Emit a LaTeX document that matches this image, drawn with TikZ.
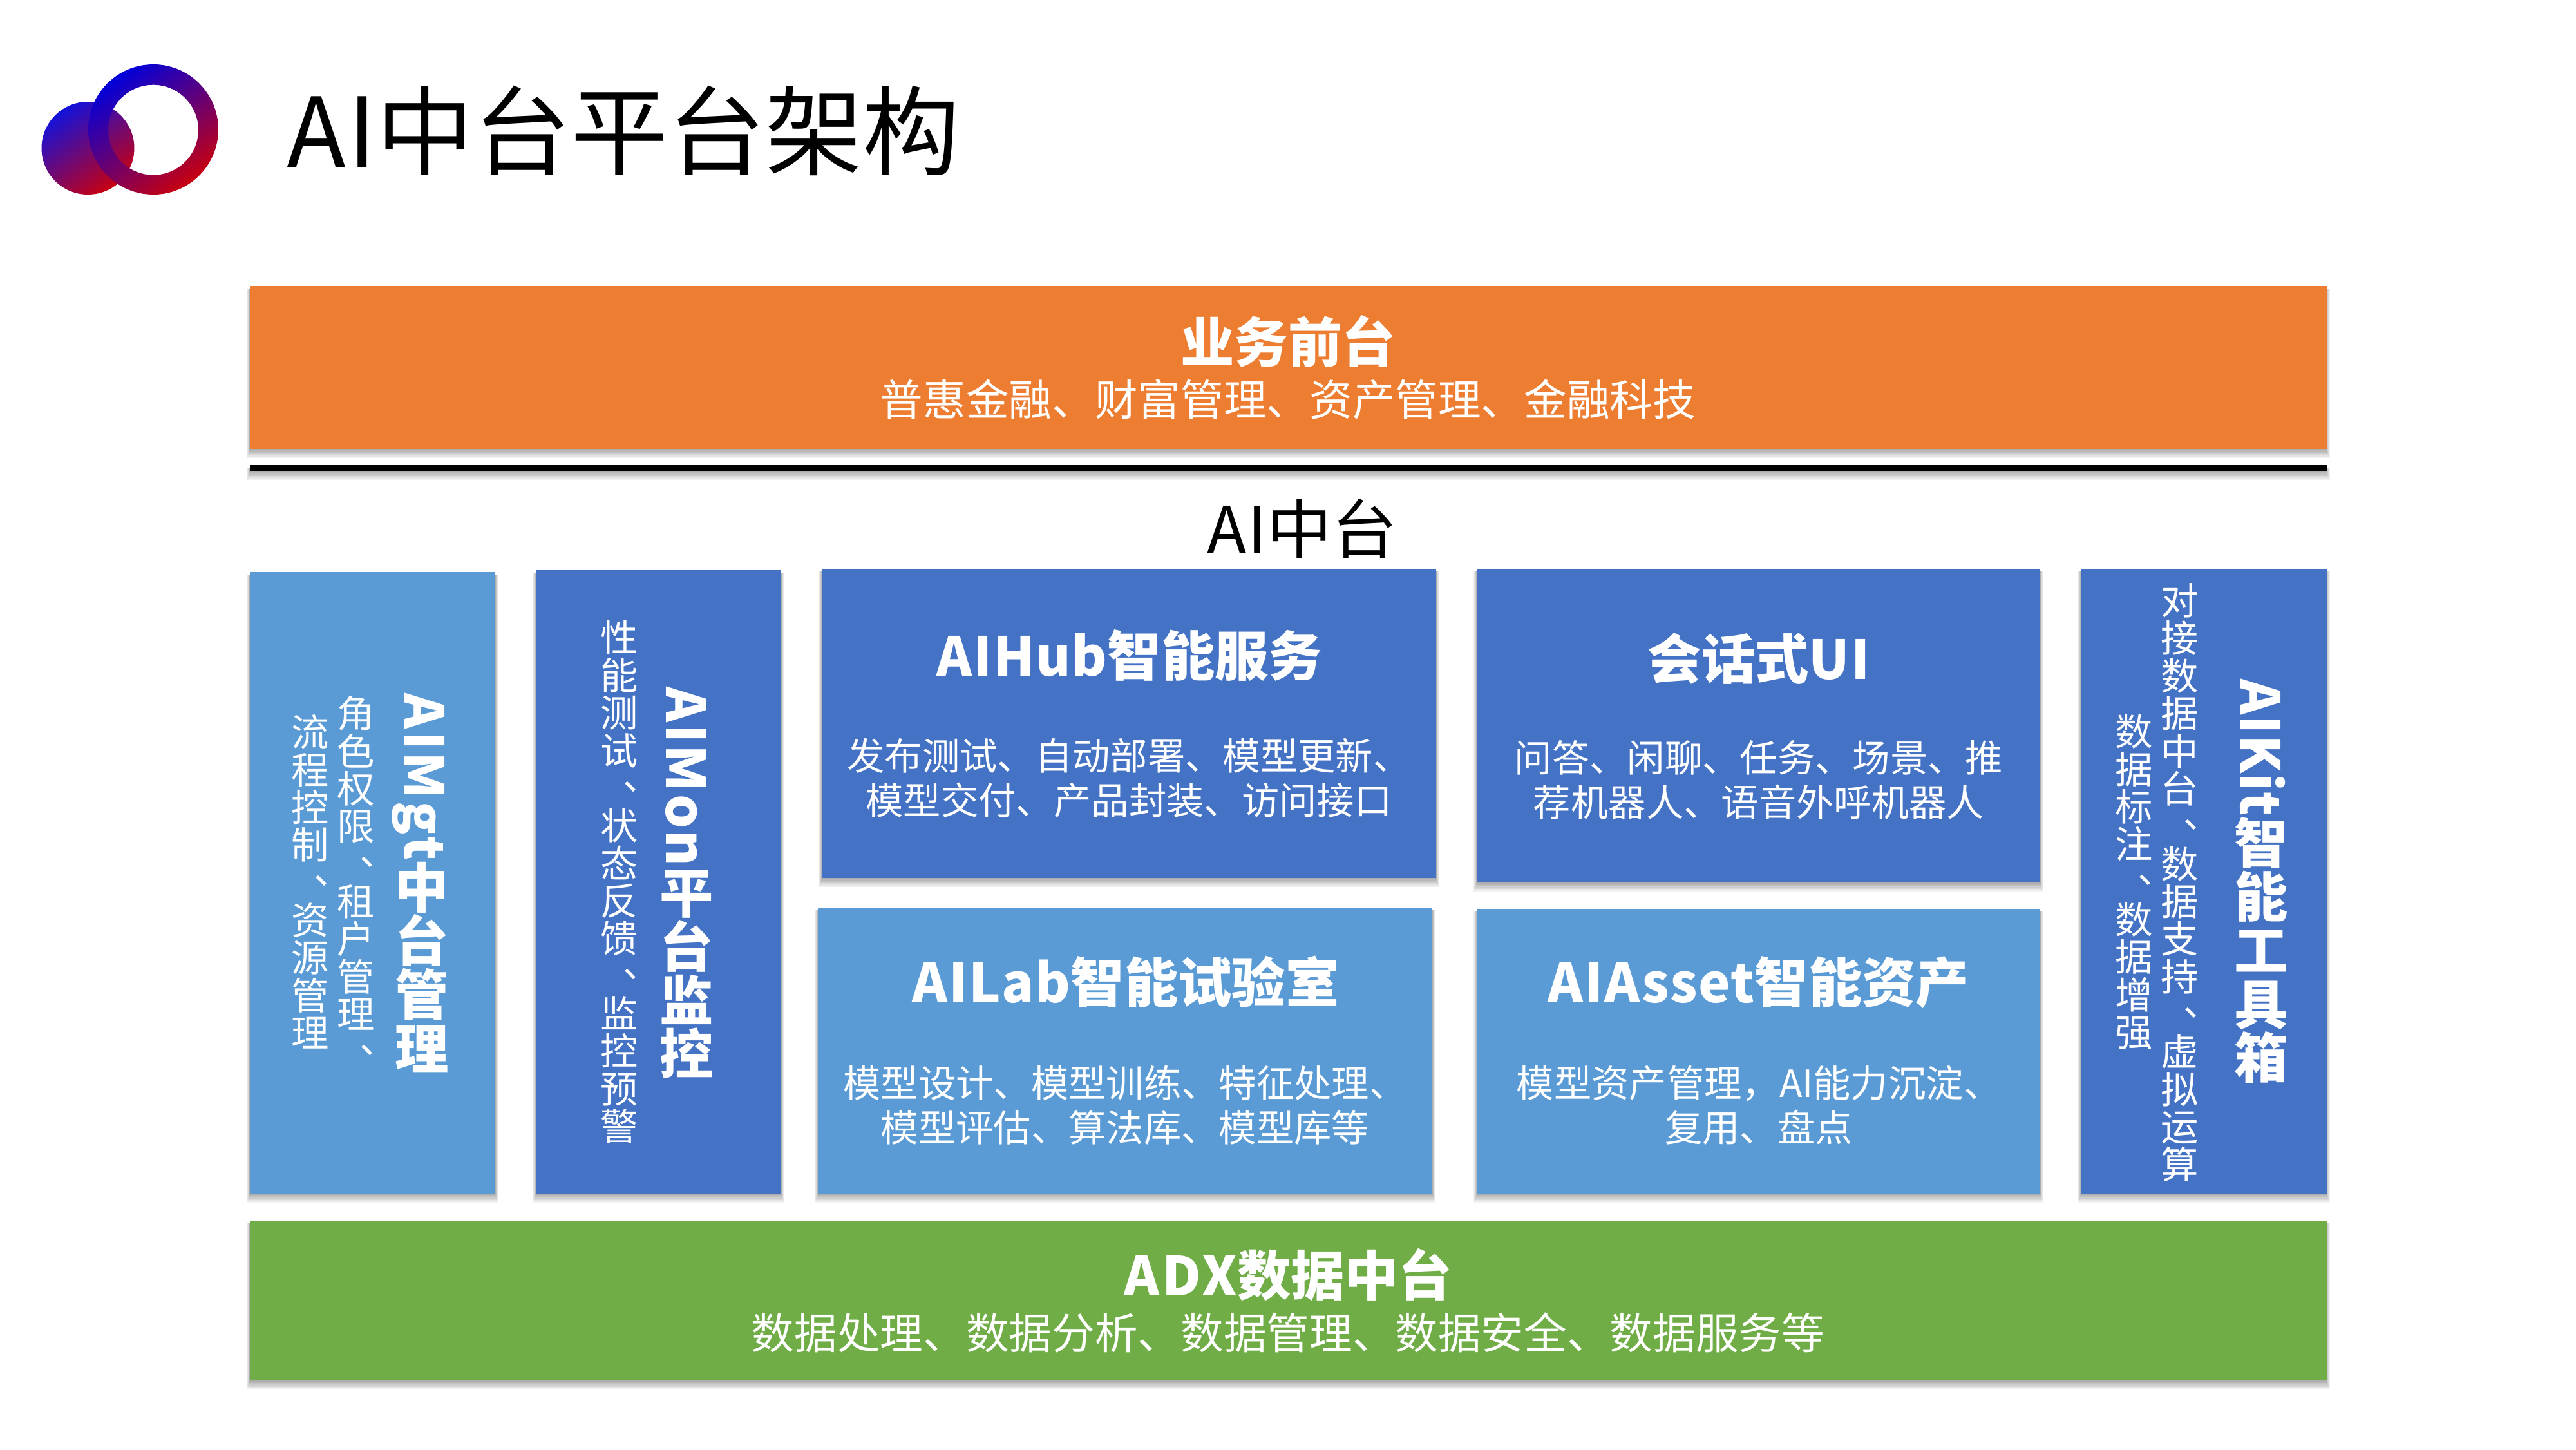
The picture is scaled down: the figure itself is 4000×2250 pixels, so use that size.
\documentclass[tikz,border=0pt]{standalone}
\usepackage{fontspec}
\usepackage{graphicx}
\setmainfont{Noto Sans CJK SC}
\definecolor{orangeb}{HTML}{ED7D31}
\definecolor{blueb}{HTML}{4472C4}
\definecolor{lblueb}{HTML}{5B9BD5}
\definecolor{greenb}{HTML}{70AD47}
\definecolor{lgblue}{HTML}{1212DC}
\definecolor{rgblue}{HTML}{0000DC}
\definecolor{lgred}{HTML}{C80010}
\makeatletter
\newcommand\st{\rule{0pt}{.88em}\rule[-.12em]{0pt}{.12em}}
\newcommand\pc{\hbox to 1em{\st\kern.6em\raise.33em\hbox{、}\hss}}
\newcommand\vcell[1]{\hbox to 1em{\hss\st#1\hss}}
\newcommand\vch[1]{\@tfor\vtc:=#1\do{\ifx\vtc\pcmark\pc\else\vcell{\vtc}\fi}}
\def\pcmark{、}
\newcommand\vlat[2][4]{\hbox to 1em{\hss\rotatebox{-90}{\st{\addfontfeature{LetterSpace=#1}#2}}\hss}}
\makeatother
\newcommand\lat[2][2]{{\addfontfeature{LetterSpace=#1}#2}}
\newcommand\vtx[1]{\vbox{\offinterlineskip #1}}
\newcommand\shrect[4]{%
  \foreach \d/\h in {-4/0,-2/.5,0/1,2/1.5,4/2,6/3,8/4,10/5}{%
    \fill[black,opacity=.05] (#1-\h,#2+4) rectangle (#3+\h,#4+\d+4);}}
\newcommand\bx[5]{\shrect{#1}{#2}{#3}{#4}\fill[#5] (#1,#2) rectangle (#3,#4);}
\tikzset{
  x=.5pt,y=-.5pt,
  txt/.style={inner sep=0pt,outer sep=0pt,anchor=center,execute at begin node=\st},
  vtxt/.style={inner sep=0pt,outer sep=0pt,anchor=center,text=white},
  head/.style={txt,text=white,font=\fontsize{41.67pt}{41.67pt}\selectfont\bfseries},
  bandsub/.style={txt,text=white,font=\fontsize{33.33pt}{33.33pt}\selectfont},
  desc/.style={txt,text=white,font=\fontsize{29.17pt}{29.17pt}\selectfont},
  vhead/.style={vtxt,font=\fontsize{41.67pt}{41.67pt}\selectfont\bfseries},
  vdesc/.style={vtxt,font=\fontsize{29.17pt}{29.17pt}\selectfont},
  logograd/.style={top color=#1,bottom color=lgred,shading angle=35},
}
\begin{document}
\begin{tikzpicture}
\useasboundingbox (0,0) rectangle (4000,2250);
\fill[white] (0,0) rectangle (4000,2250);
% logo
\shade[logograd=lgblue] (136.5,230) circle [radius=72];
\shade[logograd=rgblue,even odd rule] (238,201) circle [radius=101] (238,201.7) circle [radius=70];
\node[txt,font=\fontsize{75.5pt}{75.5pt}\selectfont] (title) at (968,203) {\lat{AI}中台平台架构};
% bands
\bx{387.5}{444}{3612.5}{697}{orangeb}
\bx{387.5}{721.5}{3612.5}{730.5}{black}
\bx{387.5}{1895}{3612.5}{2143}{greenb}
% columns and cells
\bx{387.5}{888}{769}{1853}{lblueb}
\bx{832}{885}{1213}{1853}{blueb}
\bx{1276}{883}{2230}{1363}{blueb}
\bx{1270}{1409}{2224}{1853}{lblueb}
\bx{2293}{883}{3168}{1370}{blueb}
\bx{2293}{1411}{3168}{1853}{lblueb}
\bx{3231}{883}{3612.5}{1853}{blueb}
% band text
\node[head] (front) at (2000,531) {业务前台};
\node[bandsub] (frontsub) at (2000,620) {普惠金融、财富管理、资产管理、金融科技};
\node[txt,font=\fontsize{50.5pt}{50.5pt}\selectfont] (mid) at (2022,821) {\lat{AI}中台};
\node[head] (adx) at (2000,1980) {\lat[5]{ADX}数据中台};
\node[bandsub] (adxsub) at (2000,2069) {数据处理、数据分析、数据管理、数据安全、数据服务等};
% cells
\node[head] (hub) at (1754,1018) {\lat{AIHub}智能服务};
\node[desc] (huba) at (1753,1173) {发布测试、自动部署、模型更新、};
\node[desc] (hubb) at (1753,1242) {模型交付、产品封装、访问接口};
\node[head] (lab) at (1748,1525) {\lat{AILab}智能试验室};
\node[desc] (laba) at (1747,1681) {模型设计、模型训练、特征处理、};
\node[desc] (labb) at (1747,1750) {模型评估、算法库、模型库等};
\node[head] (ui) at (2731,1023) {会话式\lat{UI}};
\node[desc] (uia) at (2731,1176) {问答、闲聊、任务、场景、推};
\node[desc] (uib) at (2731,1245) {荐机器人、语音外呼机器人};
\node[head] (asset) at (2731,1525) {\lat{AIAsset}智能资产};
\node[desc] (asseta) at (2731,1681) {模型资产管理，AI能力沉淀、};
\node[desc] (assetb) at (2731,1750) {复用、盘点};
% vertical columns
\node[vhead] (mgt) at (655,1373) {\vtx{\vlat{AIMgt}\vch{中台管理}}};
\node[vdesc] (mgta) at (553,1370) {\vtx{\vch{角色权限、租户管理、}}};
\node[vdesc] (mgtb) at (482,1370) {\vtx{\vch{流程控制、资源管理}}};
\node[vhead] (mon) at (1066,1372) {\vtx{\vlat{AIMon}\vch{平台监控}}};
\node[vdesc] (mona) at (962,1369) {\vtx{\vch{性能测试、状态反馈、监控预警}}};
\node[vhead] (kit) at (3511,1369) {\vtx{\vlat[1.5]{AIKit}\vch{智能工具箱}}};
\node[vdesc] (kita) at (3385,1370) {\vtx{\vch{对接数据中台、数据支持、虚拟运算}}};
\node[vdesc] (kitb) at (3314,1369) {\vtx{\vch{数据标注、数据增强}}};
\end{tikzpicture}
\end{document}
